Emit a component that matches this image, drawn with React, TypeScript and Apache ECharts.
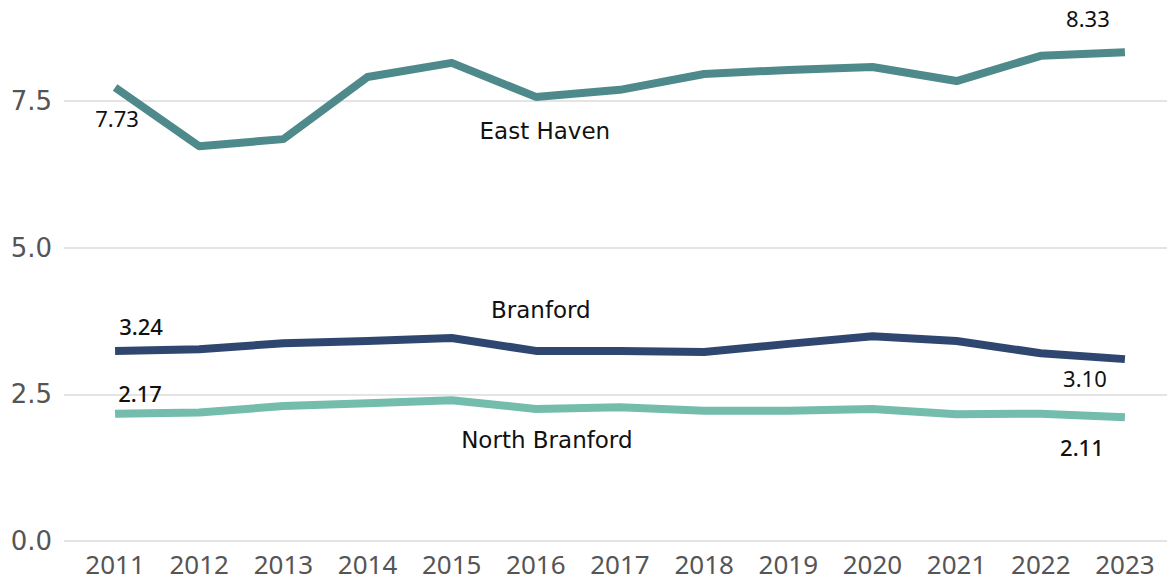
import React, { useEffect, useRef } from "react";
import * as echarts from "echarts";

const years = ["2011", "2012", "2013", "2014", "2015", "2016", "2017", "2018", "2019", "2020", "2021", "2022", "2023"];
const eastHaven = [7.73, 6.73, 6.85, 7.91, 8.15, 7.57, 7.69, 7.96, 8.03, 8.08, 7.84, 8.27, 8.33];
const branford = [3.24, 3.27, 3.37, 3.41, 3.46, 3.24, 3.24, 3.22, 3.36, 3.49, 3.41, 3.20, 3.10];
const northBranford = [2.17, 2.19, 2.30, 2.35, 2.40, 2.25, 2.28, 2.22, 2.22, 2.25, 2.16, 2.17, 2.11];
const yTicks = [0, 2.5, 5, 7.5];

type LabelSpec = { idx: number; text: string; dx: number; dy: number; weight?: number | string; family?: string; size?: number };

function buildData(values: number[], labels: LabelSpec[]) {
  return values.map((v, i) => {
    const l = labels.find((x) => x.idx === i);
    if (!l) return { value: v, label: { show: false } };
    return {
      value: v,
      label: {
        show: true,
        position: "inside",
        offset: [l.dx, l.dy],
        formatter: l.text,
        color: "#111",
        fontSize: l.size || 22,
        fontFamily: l.family || "Noto Sans",
        fontWeight: l.weight || 400,
      },
    };
  });
}

export default function App() {
  const ref = useRef<HTMLDivElement>(null);
  useEffect(() => {
    if (!ref.current) return;
    const chart = echarts.init(ref.current, undefined, { renderer: "svg" });
    const top = 13;
    const bottom = 40;
    const nameFont = "DejaVu Sans";
    const lineSeries = (name: string, values: number[], color: string, labels: LabelSpec[]) => ({
      name,
      type: "line",
      xAxisIndex: 1,
      yAxisIndex: 1,
      data: buildData(values, labels),
      symbol: "circle",
      symbolSize: 0.1,
      showSymbol: true,
      itemStyle: { color },
      lineStyle: { color, width: 8, cap: "butt", join: "round" },
      emphasis: { disabled: true },
      z: 3,
    });
    const last = years.length - 1;
    chart.setOption({
      animation: false,
      backgroundColor: "#ffffff",
      grid: [
        { left: 64, right: 0, top, bottom },
        { left: 73, right: 0, top, bottom },
      ],
      xAxis: [
        { gridIndex: 0, type: "value", show: false, min: 0, max: 1 },
        {
          gridIndex: 1,
          type: "category",
          data: years,
          boundaryGap: true,
          axisLine: { show: false },
          axisTick: { show: false },
          axisLabel: { color: "#555", fontSize: 26, lineHeight: 26, fontFamily: "Noto Sans", margin: 10, interval: 0 },
        },
      ],
      yAxis: [
        {
          gridIndex: 0,
          type: "value",
          min: 0,
          max: 9,
          interval: 2.5,
          axisLine: { show: false },
          axisTick: { show: false },
          axisLabel: {
            color: "#555",
            fontSize: 26,
            fontFamily: "DejaVu Sans",
            margin: 12,
            showMaxLabel: false,
            formatter: (v: number) => (yTicks.includes(v) ? v.toFixed(1) : ""),
          },
          splitLine: {
            show: true,
            lineStyle: { color: ["#e4e4e4", "#e4e4e4", "#e4e4e4", "#e4e4e4", "rgba(0,0,0,0)"], width: 2 },
          },
        },
        { gridIndex: 1, type: "value", min: 0, max: 9, show: false, splitLine: { show: false } },
      ],
      series: [
        lineSeries("East Haven", eastHaven, "#4e8a8b", [
          { idx: 0, text: "7.73", dx: 2, dy: 30 },
          { idx: 5, text: "East Haven", dx: 9, dy: 34, family: nameFont, size: 23 },
          { idx: last, text: "8.33", dx: -37, dy: -34 },
        ]),
        lineSeries("Branford", branford, "#2f4770", [
          { idx: 0, text: "3.24", dx: 26, dy: -25, weight: 500 },
          { idx: 5, text: "Branford", dx: 5, dy: -41, family: nameFont, size: 23 },
          { idx: last, text: "3.10", dx: -40, dy: 19 },
        ]),
        lineSeries("North Branford", northBranford, "#74bcab", [
          { idx: 0, text: "2.17", dx: 25, dy: -21, weight: 500 },
          { idx: 5, text: "North Branford", dx: 11, dy: 31, family: nameFont, size: 23 },
          { idx: last, text: "2.11", dx: -43, dy: 30, weight: 500 },
        ]),
      ],
    });
    return () => chart.dispose();
  }, []);
  return (
    <div
      ref={ref}
      style={{ position: "fixed", left: 0, top: 0, width: 1167, height: 581, background: "#fff" }}
    />
  );
}
